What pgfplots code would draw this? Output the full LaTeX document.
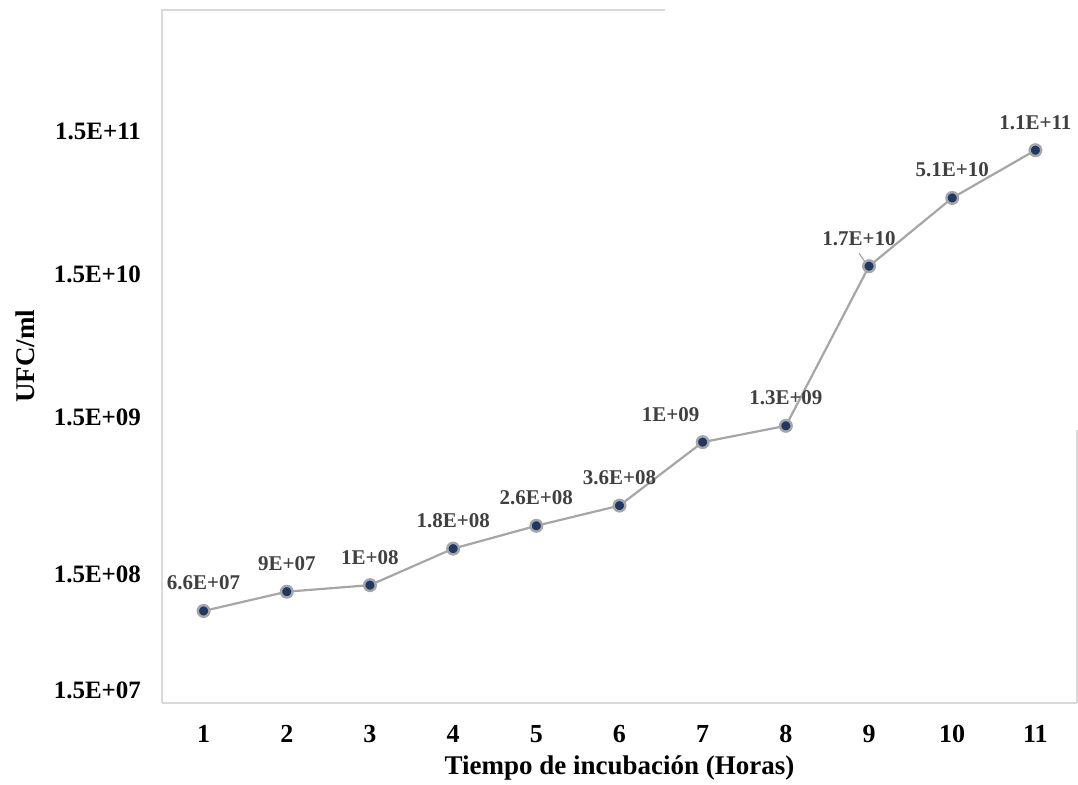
\documentclass[border=0pt]{standalone}
\usepackage{pgfplots}
\pgfplotsset{compat=1.18}
\usepackage{pgfplotstable}
\usepackage{fontspec}
\setmainfont{Liberation Serif}

\definecolor{linegray}{HTML}{A6A6A6}
\definecolor{navy}{HTML}{1F3864}
\definecolor{framegray}{HTML}{D9D9D9}
\definecolor{labelgray}{HTML}{404040}

% Recuento de UFC/ml por hora de incubación
\pgfplotstableread{
hora ufc etiqueta dx
1 6.6e7 6.6E+07 0
2 9e7 9E+07 0
3 1e8 1E+08 0
4 1.8e8 1.8E+08 0
5 2.6e8 2.6E+08 0
6 3.6e8 3.6E+08 0
7 1e9 1E+09 -16
8 1.3e9 1.3E+09 0
9 1.7e10 1.7E+10 -5
10 5.1e10 5.1E+10 0
11 1.1e11 1.1E+11 0
}\datos

\begin{document}
\begin{tikzpicture}
\path[use as bounding box] (-81pt,-41pt) rectangle (458pt,351.5pt);
\begin{axis}[
  at={(0,0)}, anchor=south west,
  scale only axis, width=457.5pt, height=346.5pt,
  ymode=log, log basis y=10,
  xmin=0.5, xmax=11.5, ymin=1.5e7, ymax=1.052e12,
  axis line style={draw=none},
  xtick={1,...,11},
  ytick={1.5e7,1.5e8,1.5e9,1.5e10,1.5e11},
  yticklabels={\raisebox{2.3pt}[0pt][0pt]{1.5E+07},
               \raisebox{-11.2pt}[0pt][0pt]{1.5E+08},
               1.5E+09, 1.5E+10, 1.5E+11},
  /pgf/number format/assume math mode=true,
  major tick length=0pt,
  tick label style={font=\fontsize{12.5}{14}\selectfont\bfseries, text=black},
  yticklabel style={anchor=east, xshift=-7pt},
  xticklabel style={yshift=-7.5pt, font=\fontsize{13}{15}\selectfont\bfseries},
  xlabel={Tiempo de incubación (Horas)},
  ylabel={UFC/ml},
  every axis x label/.style={at={(axis description cs:0.5,0)}, anchor=center, yshift=-32.5pt,
    font=\fontsize{13.5}{16}\selectfont\bfseries},
  every axis y label/.style={at={(axis description cs:0,0.5)}, anchor=center, xshift=-68.5pt, rotate=90,
    font=\fontsize{13.5}{16}\selectfont\bfseries},
  clip=false,
]
% marco del área de trazado
\draw[framegray, line width=0.8pt] (axis description cs:0,0) -- (axis description cs:1,0);
\draw[framegray, line width=0.8pt] (axis description cs:0,0) -- (axis description cs:0,1) -- (axis description cs:0.55,1);
\draw[framegray, line width=0.8pt] (axis description cs:1,0) -- (axis description cs:1,0.394);
% línea guía de la etiqueta de la hora 9
\draw[linegray, line width=0.6pt] ([shift={(-1.8pt,1.8pt)}]axis cs:9,1.7e10) -- ([shift={(-5pt,6.5pt)}]axis cs:9,1.7e10);
\addplot[
  color=linegray, line width=1.1pt,
  mark=*, mark size=2.9pt,
  mark options={fill=navy, draw=linegray, line width=1.2pt},
  nodes near coords,
  point meta=explicit symbolic,
  visualization depends on={\thisrow{dx} \as \dx},
  every node near coord/.append style={font=\fontsize{10.5}{12}\selectfont\bfseries, text=labelgray, yshift=6.5pt, xshift=\dx pt},
] table[x=hora, y=ufc, meta=etiqueta] {\datos};
\end{axis}
\end{tikzpicture}
\end{document}
